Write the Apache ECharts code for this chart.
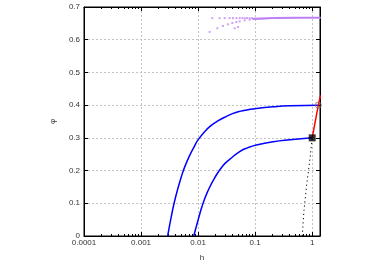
<!DOCTYPE html>
<html>
<head>
<meta charset="utf-8">
<script src="https://cdn.jsdelivr.net/npm/echarts@6/dist/echarts.min.js"></script>
<style>
  html, body { margin: 0; padding: 0; background: #fff; }
  #chart { width: 382px; height: 267px; }
</style>
</head>
<body>
<div id="chart"></div>
<script>
// upper blue branch
var upperH = [0.00293, 0.00336, 0.00384, 0.0044, 0.00504, 0.00576, 0.00706, 0.00865, 0.00989, 0.0130, 0.0170, 0.0222, 0.0292, 0.040, 0.0536, 0.075, 0.105, 0.207, 0.406, 1.28];
var upperPhi = [0, 0.056, 0.104, 0.144, 0.179, 0.209, 0.245, 0.275, 0.293, 0.319, 0.338, 0.352, 0.363, 0.374, 0.381, 0.386, 0.390, 0.395, 0.398, 0.4];
// lower blue branch
var lowerH = [0.0084, 0.00989, 0.0121, 0.0148, 0.0194, 0.0272, 0.0357, 0.0536, 0.075, 0.105, 0.207, 0.406, 1.0];
var lowerPhi = [0, 0.046, 0.098, 0.137, 0.177, 0.215, 0.234, 0.258, 0.270, 0.278, 0.288, 0.294, 0.3];
// black dotted path
var dotH = [0.67, 0.717, 0.80, 0.915, 1.0];
var dotPhi = [0, 0.078, 0.157, 0.236, 0.3];
// red segment
var redH = [1.0, 1.28, 1.40];
var redPhi = [0.3, 0.4, 0.43];
// purple points near 2/3
var purpleH = [0.0177, 0.0238, 0.0292, 0.0357, 0.0409, 0.0469, 0.0536, 0.0598, 0.0656, 0.072, 0.080, 0.088,
               0.0159, 0.0217, 0.0272, 0.0333, 0.0398, 0.0469, 0.0536, 0.0656, 0.080,
               0.0437, 0.050];
var purplePhi = [0.666, 0.666, 0.666, 0.666, 0.666, 0.666, 0.666, 0.666, 0.666, 0.666, 0.666, 0.666,
                 0.624, 0.635, 0.642, 0.647, 0.651, 0.654, 0.656, 0.659, 0.661,
                 0.635, 0.639];
var bandH = [0.09, 0.2, 0.5, 1.4];
var bandPhiA = [0.664, 0.666, 0.667, 0.667];
var bandPhiB = [0.662, 0.665, 0.667, 0.668];

var xTicks = [0.0001, 0.001, 0.01, 0.1, 1];
var minorTicks = [];
xTicks.forEach(function (d) {
    for (var k = 2; k <= 9; k++) minorTicks.push(+(d * k).toPrecision(3));
});

function zip(a, b) { return a.map(function (v, i) { return [v, b[i]]; }); }

var font = 'Liberation Sans, Arial, sans-serif';
var gridLine = { show: true, lineStyle: { color: '#c4c4c4', type: [2, 2], width: 1 } };

var chart = echarts.init(document.getElementById('chart'));
chart.setOption({
    animation: false,
    grid: { left: 84, right: 62, top: 7, bottom: 24, show: true, borderColor: '#000', borderWidth: 1 },
    xAxis: [
        {
            type: 'log', min: 0.0001, max: 1.37, logBase: 10,
            name: 'h', nameLocation: 'middle', nameGap: 18,
            nameTextStyle: { fontFamily: font, fontSize: 8, color: '#333' },
            axisLine: { lineStyle: { color: '#000', width: 1 } },
            axisTick: { inside: true, length: 4, lineStyle: { color: '#000' } },
            axisLabel: {
                fontFamily: font, fontSize: 8, color: '#333', margin: 3, showMaxLabel: false,
                formatter: function (v) { return xTicks.indexOf(+v) >= 0 ? String(+v) : ''; }
            },
            splitLine: gridLine
        },
        {
            type: 'log', min: 0.0001, max: 1.37, logBase: 10, position: 'bottom',
            axisLine: { show: false },
            axisTick: { inside: true, length: 2, customValues: minorTicks, lineStyle: { color: '#000' } },
            axisLabel: { show: false }, splitLine: { show: false }
        },
        {
            type: 'log', min: 0.0001, max: 1.37, logBase: 10, position: 'top',
            axisLine: { lineStyle: { color: '#000', width: 1 } },
            axisTick: { inside: true, length: 4, lineStyle: { color: '#000' } },
            axisLabel: { show: false }, splitLine: { show: false }
        },
        {
            type: 'log', min: 0.0001, max: 1.37, logBase: 10, position: 'top',
            axisLine: { show: false },
            axisTick: { inside: true, length: 2, customValues: minorTicks, lineStyle: { color: '#000' } },
            axisLabel: { show: false }, splitLine: { show: false }
        }
    ],
    yAxis: [
        {
            type: 'value', min: 0, max: 0.7, interval: 0.1,
            name: 'φ', nameLocation: 'middle', nameGap: 27,
            nameTextStyle: { fontFamily: font, fontSize: 8, color: '#333' },
            axisLine: { show: true, lineStyle: { color: '#000', width: 1 } },
            axisTick: { show: true, inside: true, length: 4, lineStyle: { color: '#000' } },
            axisLabel: { fontFamily: font, fontSize: 8, color: '#333', margin: 4 },
            splitLine: gridLine
        },
        {
            type: 'value', min: 0, max: 0.7, interval: 0.1, position: 'right',
            axisLine: { show: true, lineStyle: { color: '#000', width: 1 } },
            axisTick: { show: true, inside: true, length: 4, lineStyle: { color: '#000' } },
            axisLabel: { show: false }, splitLine: { show: false }
        }
    ],
    series: [
        {
            type: 'line', data: zip(bandH, bandPhiA), showSymbol: false, silent: true,
            lineStyle: { color: '#c58af5', width: 2 }
        },
        {
            type: 'line', data: zip(bandH, bandPhiB), showSymbol: false, silent: true,
            lineStyle: { color: '#b97cf3', width: 1 }
        },
        {
            type: 'scatter', data: zip(purpleH, purplePhi), symbol: 'rect', symbolSize: 2,
            itemStyle: { color: '#c58af5' }
        },
        {
            type: 'line', data: zip(upperH, upperPhi), showSymbol: false, smooth: 0.5,
            lineStyle: { color: '#0000ff', width: 1.5 }
        },
        {
            type: 'line', data: zip(lowerH, lowerPhi), showSymbol: false, smooth: 0.5,
            lineStyle: { color: '#0000ff', width: 1.5 }
        },
        {
            type: 'line', data: zip(dotH, dotPhi), showSymbol: false,
            lineStyle: { color: '#000', width: 1, type: [1.2, 3] }
        },
        {
            type: 'line', data: zip(redH, redPhi), showSymbol: false, clip: true,
            lineStyle: { color: '#ff0000', width: 1.5 }
        },
        {
            type: 'scatter', data: [[1.0, 0.3]], symbol: 'rect', symbolSize: 7,
            itemStyle: { color: '#000' }, z: 5
        },
        {
            type: 'scatter', data: [[1.28, 0.4]], symbol: 'circle', symbolSize: 6,
            itemStyle: { color: 'rgba(0,0,0,0)', borderColor: '#777', borderWidth: 1 }, z: 5
        }
    ]
});
</script>
</body>
</html>
